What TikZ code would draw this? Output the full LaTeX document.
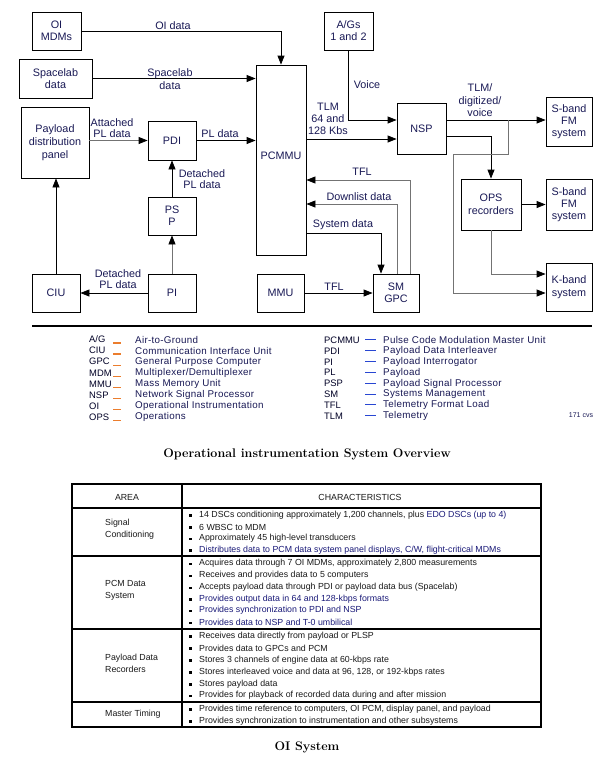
\documentclass[tikz,border=0pt]{standalone}
\usepackage{fontspec}
\usetikzlibrary{arrows.meta}
\newfontfamily\myarial{Liberation Sans}
\newfontfamily\myarialsp[LetterSpace=3]{Liberation Sans}
\definecolor{navy}{RGB}{25,25,85}
\definecolor{tabblue}{RGB}{25,25,120}
\definecolor{legor}{RGB}{235,125,45}
\definecolor{legbl}{RGB}{40,70,210}
\newcommand{\mydiag}{\myarial\fontsize{10.8}{12}\selectfont}
\newcommand{\myleg}{\myarialsp\fontsize{9.8}{12}\selectfont}
\newcommand{\mylegab}{\myarial\fontsize{9.4}{12}\selectfont}
\newcommand{\mytab}{\myarial\fontsize{8.8}{12}\selectfont}
\newcommand{\myttl}{\fontsize{12.5}{15}\selectfont\bfseries}
\begin{document}
\begin{tikzpicture}[x=1pt,y=-1pt,
  box/.style={draw, line width=0.8pt, inner sep=0pt, align=center, font=\mydiag, text=navy},
  arr/.style={-{Triangle[length=9pt,width=7pt,black]}, line width=0.8pt},
  garr/.style={arr, draw=black!55},
  lbl/.style={font=\mydiag, align=center, inner sep=0pt, text=navy},
  lbls/.style={lbl, font=\myarial\fontsize{10.8}{11}\selectfont},
  legab/.style={font=\mylegab, anchor=west, inner sep=0pt, text=black!85!blue},
  legdf/.style={font=\myleg, anchor=west, inner sep=0pt, text=navy},
  tabtxt/.style={font=\mytab, anchor=west, inner sep=0pt, text=black!90},
  tabarea/.style={font=\mytab, anchor=west, inner sep=0pt, align=left, text=black!90},
  ttl/.style={font=\myttl, anchor=base, inner sep=0pt}]
\useasboundingbox (0,0) rectangle (611,766);
\fill[white] (0,0) rectangle (611,766);

% ---------- boxes ----------
\node[box, minimum width=49pt, minimum height=38pt] (oimdm) at (56.5,31) {OI\\MDMs};
\node[box, minimum width=73pt, minimum height=39pt] (spl) at (55.5,78.5) {Spacelab\\data};
\node[box, minimum width=68pt, minimum height=71pt, font=\myarial\fontsize{10.8}{13}\selectfont] (pdp) at (55,142.5) {Payload\\distribution\\panel};
\node[box, minimum width=48pt, minimum height=39pt] (pdi) at (172,140.5) {PDI};
\node[box, minimum width=48pt, minimum height=38pt] (psp) at (172,216) {PS\\P};
\node[box, minimum width=48pt, minimum height=38pt] (pi) at (172,293) {PI};
\node[box, minimum width=48pt, minimum height=38pt] (ciu) at (56,293) {CIU};
\node[box, minimum width=50pt, minimum height=190pt, text depth=8pt] (pcmmu) at (281,160) {PCMMU};
\node[box, minimum width=47pt, minimum height=38pt] (mmu) at (280.5,293) {MMU};
\node[box, minimum width=46pt, minimum height=38pt] (smgpc) at (396,293) {SM\\GPC};
\node[box, minimum width=49pt, minimum height=38pt] (ags) at (348.5,31) {A/Gs\\1 and 2};
\node[box, minimum width=49pt, minimum height=51pt] (nsp) at (421.5,128.5) {NSP};
\node[box, minimum width=46pt, minimum height=49pt] (sb1) at (569,121.5) {S-band\\FM\\system};
\node[box, minimum width=60pt, minimum height=51pt, font=\myarial\fontsize{10.8}{13}\selectfont] (ops) at (491,204.5) {OPS\\recorders};
\node[box, minimum width=46pt, minimum height=51pt] (sb2) at (569,204.5) {S-band\\FM\\system};
\node[box, minimum width=46pt, minimum height=48pt, font=\myarial\fontsize{10.8}{13}\selectfont] (kb) at (569,287) {K-band\\system};

% ---------- connection points ----------
\coordinate (nspinA) at ([yshift=8.5pt]nsp.west);
\coordinate (nspinB) at ([yshift=-10.5pt]nsp.west);
\coordinate (nspoutA) at ([yshift=8.5pt]nsp.east);
\coordinate (nspoutB) at ([yshift=-7.5pt]nsp.east);
\coordinate (kbinA) at ([yshift=13pt]kb.west);
\coordinate (kbinB) at ([yshift=-6pt]kb.west);
\coordinate (pcmTFL) at ([yshift=-20pt]pcmmu.east);
\coordinate (pcmDown) at ([yshift=-44pt]pcmmu.east);
\coordinate (pcmSys) at ([yshift=-73pt]pcmmu.east);
\coordinate (smA) at ([xshift=14pt]smgpc.north);
\coordinate (smB) at ([xshift=1pt]smgpc.north);
\coordinate (smC) at ([xshift=-15pt]smgpc.north);
\coordinate (tap) at (508,120);
\coordinate (tapb) at (453,154);

% ---------- connectors ----------
\draw[arr] (oimdm.east) -| (pcmmu.north);
\draw[arr] (spl.east) -- (spl.east -| pcmmu.west);
\draw[garr] (pdp.east |- pdi.west) -- (pdi.west);
\draw[arr] (pdi.east) -- (pdi.east -| pcmmu.west);
\draw[arr] (psp.north) -- (pdi.south);
\draw[garr] (pi.north) -- (psp.south);
\draw[arr] (pi.west) -- (ciu.east);
\draw[arr] (ciu.north) -- (ciu.north |- pdp.south);
\draw[arr] (ags.south) |- (nspinA);
\draw[arr] (pcmmu.east |- nspinB) -- (nspinB);
\draw[arr] (nspoutA) -- (nspoutA -| sb1.west);
\draw[arr] (nspoutB) -| (ops.north);
\draw[garr] (tap) |- (tapb) |- (kbinB);
\draw[arr] (ops.east) -- (ops.east -| sb2.west);
\draw[garr] (ops.south) |- (kbinA);
\draw[garr] (smA) |- (pcmTFL);
\draw[garr] (smB) |- (pcmDown);
\draw[arr] (pcmSys) -| (smC);
\draw[arr] (mmu.east) -- (smgpc.west);

% ---------- connector labels ----------
\node[lbl] (lOI) at (173,26) {OI data};
\node[lbl, font=\myarial\fontsize{10.8}{13.5}\selectfont] (lSpl) at (170,79) {Spacelab\\data};
\node[lbls] (lAtt) at (112,128) {Attached\\PL data};
\node[lbl] (lPL) at (220,134) {PL data};
\node[lbls] (lDet1) at (202,179.5) {Detached\\PL data};
\node[lbls] (lDet2) at (118,279.5) {Detached\\PL data};
\node[lbl] (lTLM) at (328,119) {TLM\\64 and\\128 Kbs};
\node[lbl] (lVoice) at (367,85) {Voice};
\node[lbl, font=\myarial\fontsize{10.8}{12.5}\selectfont] (lDig) at (480,100.5) {TLM/\\digitized/\\voice};
\node[lbl] (lTFL1) at (362,172) {TFL};
\node[lbl] (lDown) at (359,197) {Downlist data};
\node[lbl] (lSys) at (343,225) {System data};
\node[lbl] (lTFL2) at (334,287) {TFL};

% ---------- separator ----------
\draw[line width=1.2pt] (32,326) -- (592,326);

% ---------- legend ----------
\foreach \ab/\df [count=\i from 0] in {{A/G}/{Air-to-Ground}, CIU/{Communication Interface Unit}, GPC/{General Purpose Computer}, MDM/{Multiplexer/Demultiplexer}, MMU/{Mass Memory Unit}, NSP/{Network Signal Processor}, OI/{Operational Instrumentation}, OPS/{Operations}}{
  \node[legab] (la\i) at (89,339.5+11.1*\i) {\ab};
  \draw[legor, line width=1.3pt] (113,343+11.1*\i) -- (121,343+11.1*\i);
  \node[legdf] (ld\i) at (135,339.5+11.1*\i) {\df};
}
\foreach \ab/\df [count=\i from 0] in {PCMMU/{Pulse Code Modulation Master Unit}, PDI/{Payload Data Interleaver}, PI/{Payload Interrogator}, PL/{Payload}, PSP/{Payload Signal Processor}, SM/{Systems Management}, TFL/{Telemetry Format Load}, TLM/{Telemetry}}{
  \node[legab] (ra\i) at (324,340+10.9*\i) {\ab};
  \draw[legbl, line width=1pt] (365,339.5+10.9*\i) -- (376,339.5+10.9*\i);
  \node[legdf] (rd\i) at (383,340+10.9*\i) {\df};
}
\node[font=\myarial\fontsize{7}{8}\selectfont, inner sep=0pt, text=navy] (cvs) at (581,415) {171 cvs};

% ---------- title 1 ----------
\node[ttl] (t1) at (307,457) {Operational instrumentation System Overview};

% ---------- table ----------
\draw[line width=1.3pt] (72,484) rectangle (541,727);
\draw[line width=1.3pt] (182,484) -- (182,727);
\foreach \yy in {508,556,629,702}{\draw[line width=1.3pt] (72,\yy) -- (541,\yy);}
\node[font=\mytab, inner sep=0pt, text=black!90] (hA) at (127,497) {AREA};
\node[font=\mytab, inner sep=0pt, text=black!90] (hC) at (360,497) {CHARACTERISTICS};
\node[tabarea] (a1) at (105,529) {Signal\\Conditioning};
\node[tabarea] (a2) at (105,590.5) {PCM Data\\System};
\node[tabarea] (a3) at (105,663) {Payload Data\\Recorders};
\node[tabarea] (a4) at (105,714.5) {Master Timing};
\foreach \yy/\bl [count=\i] in {
 515/{14 DSCs conditioning approximately 1,200 channels, plus \textcolor{tabblue}{EDO DSCs (up to 4)}},
 527/{6 WBSC to MDM},
 538.5/{Approximately 45 high-level transducers},
 550/{\textcolor{tabblue}{Distributes data to PCM data system panel displays, C/W, flight-critical MDMs}},
 563.5/{Acquires data through 7 OI MDMs, approximately 2,800 measurements},
 575.5/{Receives and provides data to 5 computers},
 587.5/{Accepts payload data through PDI or payload data bus (Spacelab)},
 599/{\textcolor{tabblue}{Provides output data in 64 and 128-kbps formats}},
 610.5/{\textcolor{tabblue}{Provides synchronization to PDI and NSP}},
 622.5/{\textcolor{tabblue}{Provides data to NSP and T-0 umbilical}},
 636/{Receives data directly from payload or PLSP},
 648/{Provides data to GPCs and PCM},
 660/{Stores 3 channels of engine data at 60-kbps rate},
 672/{Stores interleaved voice and data at 96, 128, or 192-kbps rates},
 684/{Stores payload data},
 695.5/{Provides for playback of recorded data during and after mission},
 709/{Provides time reference to computers, OI PCM, display panel, and payload},
 721/{Provides synchronization to instrumentation and other subsystems}}{
  \fill (189.3,\yy-0.8) rectangle (191.8,\yy+1.7);
  \node[tabtxt] (b\i) at (199,\yy) {\bl};
}

% ---------- title 2 ----------
\node[ttl] (t2) at (307,750) {OI System};
\end{tikzpicture}
\end{document}
